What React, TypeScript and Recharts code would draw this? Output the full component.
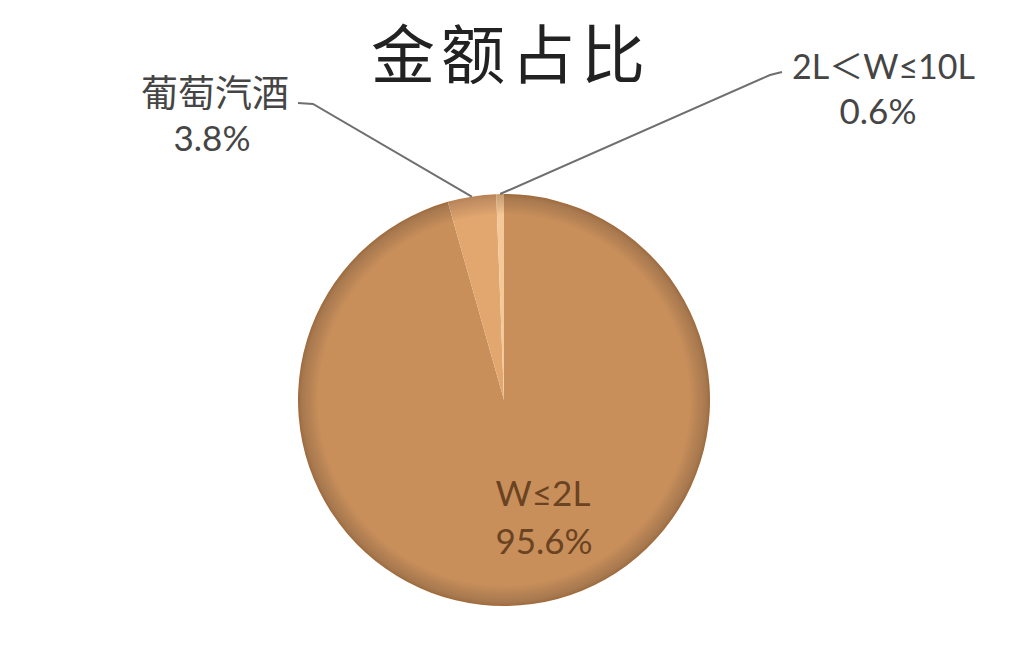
import React from 'react';
import { PieChart, Pie, Cell } from 'recharts';

const categories = ['W≤2L', '葡萄汽酒', '2L＜W≤10L'];
const shares = [95.6, 3.8, 0.6];
const sliceColors = ['#C98F5B', '#E2A66F', '#F4C898'];
const rimColors = ['#9E6A3C', '#B88050', '#C89A6A'];
const chartTitle = '金额占比';

const data = categories.map((name, i) => ({ name, value: shares[i] }));

const RADIAN = Math.PI / 180;
const LABEL_FONT = "Lato, 'Noto Sans CJK SC', sans-serif";

const renderLabel = (props: any) => {
  const { cx, cy, midAngle, outerRadius, index, value, name } = props;
  const pct = `${Number(value).toFixed(1)}%`;
  const ex = cx + outerRadius * Math.cos(-midAngle * RADIAN);
  const ey = cy + outerRadius * Math.sin(-midAngle * RADIAN);
  if (index === 0) {
    return (
      <g>
        <text x={cx + 39} y={cy + 92} textAnchor="middle" dominantBaseline="central" fill="#6A4322" fontSize={35} fontFamily={LABEL_FONT}>{name}</text>
        <text x={cx + 40} y={cy + 140} textAnchor="middle" dominantBaseline="central" fill="#6A4322" fontSize={35} fontFamily={LABEL_FONT}>{pct}</text>
      </g>
    );
  }
  if (index === 1) {
    const pts = `${ex},${ey} ${cx - 191},${cy - 296} ${cx - 206},${cy - 297}`;
    return (
      <g>
        <polyline points={pts} fill="none" stroke="#6f6f6f" strokeWidth={2} />
        <text x={cx - 215} y={cy - 309} textAnchor="end" dominantBaseline="central" fill="#454545" fontSize={37} fontFamily="'Noto Sans CJK SC', sans-serif">{name}</text>
        <text x={cx - 292} y={cy - 263} textAnchor="middle" dominantBaseline="central" fill="#454545" fontSize={35} fontFamily={LABEL_FONT}>{pct}</text>
      </g>
    );
  }
  const pts = `${ex},${ey} ${cx + 266},${cy - 325} ${cx + 278},${cy - 328}`;
  return (
    <g>
      <polyline points={pts} fill="none" stroke="#6f6f6f" strokeWidth={2} />
      <text x={cx + 288} y={cy - 335} textAnchor="start" dominantBaseline="central" fill="#454545" fontSize={34} fontFamily={LABEL_FONT}>{name}</text>
      <text x={cx + 374} y={cy - 290} textAnchor="middle" dominantBaseline="central" fill="#454545" fontSize={35} fontFamily={LABEL_FONT}>{pct}</text>
    </g>
  );
};

export default function App() {
  return (
    <div style={{ position: 'absolute', left: 0, top: 0, width: 1016, height: 655, background: '#fff' }}>
      <div
        style={{
          position: 'absolute',
          left: 0,
          top: 12,
          width: 1016,
          textAlign: 'center',
          fontFamily: "'Noto Sans CJK SC', sans-serif",
          fontSize: 64,
          fontWeight: 400,
          letterSpacing: 6,
          color: '#222',
          lineHeight: '76px',
          paddingLeft: 6,
          boxSizing: 'border-box',
        }}
      >
        {chartTitle}
      </div>
      <PieChart width={1016} height={655} margin={{ top: 0, right: 0, bottom: 0, left: 0 }} style={{ position: 'absolute', left: 0, top: 0 }}>
        <defs>
          {sliceColors.map((c, i) => (
            <radialGradient key={i} id={`rim${i}`} cx="504" cy="400" r="206" gradientUnits="userSpaceOnUse">
              <stop offset="0" stopColor={c} />
              <stop offset="0.9" stopColor={c} />
              <stop offset="0.98" stopColor={rimColors[i]} stopOpacity={0.9} />
              <stop offset="1" stopColor={rimColors[i]} />
            </radialGradient>
          ))}
        </defs>
        <Pie
          data={data}
          dataKey="value"
          nameKey="name"
          cx={504}
          cy={400}
          outerRadius={206}
          startAngle={90}
          endAngle={-270}
          stroke="none"
          label={renderLabel}
          labelLine={false}
          isAnimationActive={false}
        >
          {data.map((d, i) => (
            <Cell key={d.name} fill={`url(#rim${i})`} />
          ))}
        </Pie>
      </PieChart>
    </div>
  );
}
